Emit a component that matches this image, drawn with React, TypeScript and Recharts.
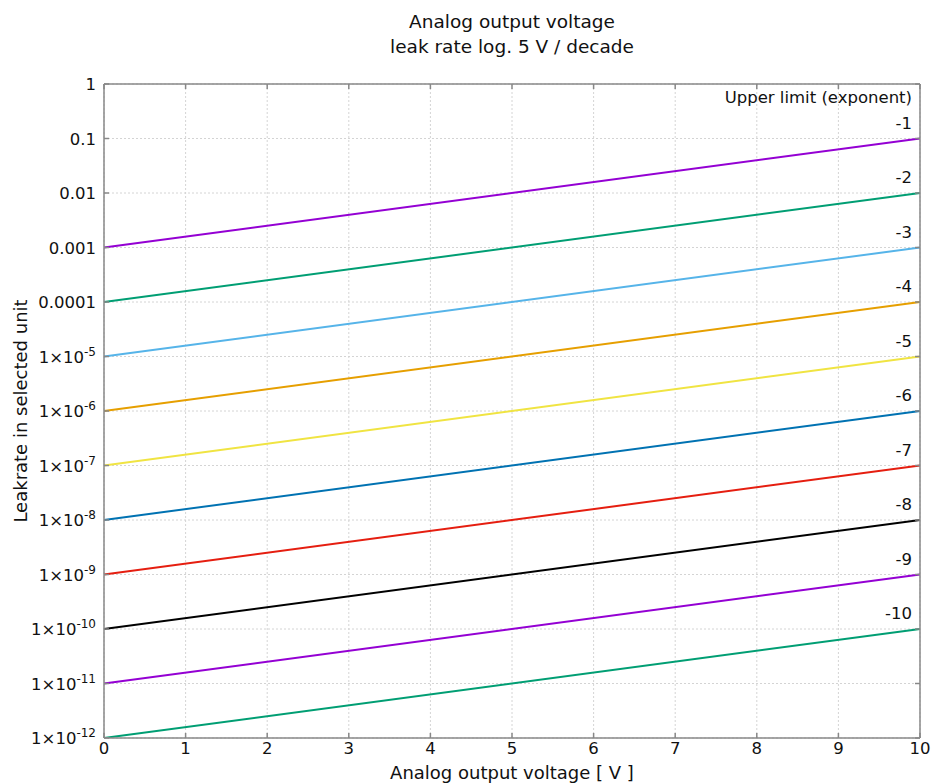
import React from "react";
import { LineChart, Line, XAxis, YAxis, CartesianGrid } from "recharts";

const xValues = [0, 10];
const exponents = [-1, -2, -3, -4, -5, -6, -7, -8, -9, -10];
const startValues = [1e-3, 1e-4, 1e-5, 1e-6, 1e-7, 1e-8, 1e-9, 1e-10, 1e-11, 1e-12];
const endValues = [1e-1, 1e-2, 1e-3, 1e-4, 1e-5, 1e-6, 1e-7, 1e-8, 1e-9, 1e-10];
const seriesLabels = ["-1", "-2", "-3", "-4", "-5", "-6", "-7", "-8", "-9", "-10"];
const colors = ["#9400d3", "#009e73", "#56b4e9", "#e69f00", "#f0e442", "#0072b2", "#e51e10", "#000000", "#9400d3", "#009e73"];
const xTicks = [0, 1, 2, 3, 4, 5, 6, 7, 8, 9, 10];
const yTicks = [1, 1e-1, 1e-2, 1e-3, 1e-4, 1e-5, 1e-6, 1e-7, 1e-8, 1e-9, 1e-10, 1e-11, 1e-12];
const yTickLabels = ["1", "0.1", "0.01", "0.001", "0.0001", "1×10^-5", "1×10^-6", "1×10^-7", "1×10^-8", "1×10^-9", "1×10^-10", "1×10^-11", "1×10^-12"];

const data = xValues.map((x, i) => {
  const row: any = { x };
  exponents.forEach((_, k) => {
    row["s" + k] = i === 0 ? startValues[k] : endValues[k];
  });
  return row;
});

const FONT = "'DejaVu Sans', Verdana, sans-serif";
const TXT = "#111";
const TICK_FS = 16.5;

const YTick = (props: any) => {
  const { x, y, payload } = props;
  const idx = yTicks.findIndex((t) => Math.abs(Math.log10(t) - Math.log10(payload.value)) < 1e-6);
  const label = idx >= 0 ? yTickLabels[idx] : String(payload.value);
  const parts = label.split("^");
  return (
    <text x={x} y={y + 6} textAnchor="end" fontSize={TICK_FS} fill={TXT} fontFamily={FONT}>
      {parts.length === 1 ? (
        parts[0]
      ) : (
        <>
          <tspan>{parts[0]}</tspan>
          <tspan dy={-7} fontSize={12}>{parts[1]}</tspan>
        </>
      )}
    </text>
  );
};

const XTick = (props: any) => {
  const { x, y, payload } = props;
  return (
    <text x={x} y={y + 13} textAnchor="middle" fontSize={TICK_FS} fill={TXT} fontFamily={FONT}>
      {payload.value}
    </text>
  );
};

const Empty = () => <g />;

const makeLabel = (k: number) => (props: any) => {
  const { x, y, index } = props;
  if (index !== 1) return <g key={"l" + k + "-" + index} />;
  return (
    <text key={"l" + k} x={x - 8} y={y - 10} textAnchor="end" fontSize={TICK_FS} fill={TXT} fontFamily={FONT}>
      {seriesLabels[k]}
    </text>
  );
};

export default function App() {
  const W = 944;
  const H = 783;
  return (
    <div style={{ position: "absolute", left: 0, top: 0, width: W, height: H, background: "#fff" }}>
      <LineChart width={W} height={H} data={data} margin={{ top: 83, right: 0, bottom: 0, left: 0 }}>
        <CartesianGrid stroke="#d4d4d4" strokeDasharray="2 2" />
        <XAxis
          dataKey="x"
          type="number"
          domain={[0, 10]}
          ticks={xTicks}
          height={45}
          stroke="#888"
          strokeWidth={1.5}
          tickSize={-5}
          tickMargin={8}
          tick={<XTick />}
          interval={0}
        />
        <XAxis
          xAxisId="top"
          dataKey="x"
          type="number"
          orientation="top"
          domain={[0, 10]}
          ticks={xTicks}
          height={1}
          stroke="#888"
          strokeWidth={1.5}
          tickSize={-5}
          tick={<Empty />}
          interval={0}
        />
        <YAxis
          type="number"
          scale="log"
          domain={[1e-12, 1]}
          allowDataOverflow
          ticks={yTicks}
          width={104}
          stroke="#888"
          strokeWidth={1.5}
          tickSize={-5}
          tickMargin={13}
          tick={<YTick />}
          interval={0}
        />
        <YAxis
          yAxisId="right"
          orientation="right"
          type="number"
          scale="log"
          domain={[1e-12, 1]}
          allowDataOverflow
          ticks={yTicks}
          width={24}
          stroke="#888"
          strokeWidth={1.5}
          tickSize={-5}
          tick={<Empty />}
          interval={0}
        />
        {exponents.map((e, k) => (
          <Line
            key={e}
            dataKey={"s" + k}
            type="linear"
            stroke={colors[k]}
            strokeWidth={2}
            dot={false}
            isAnimationActive={false}
            label={makeLabel(k)}
          />
        ))}
      </LineChart>
      <svg width={W} height={H} style={{ position: "absolute", left: 0, top: 0, pointerEvents: "none" }}>
        <text x={512} y={28} textAnchor="middle" fontSize={18.5} fill={TXT} fontFamily={FONT}>
          Analog output voltage
        </text>
        <text x={512} y={53} textAnchor="middle" fontSize={18.5} fill={TXT} fontFamily={FONT}>
          leak rate log. 5 V / decade
        </text>
        <text x={912} y={103} textAnchor="end" fontSize={TICK_FS} fill={TXT} fontFamily={FONT}>
          Upper limit (exponent)
        </text>
        <text x={512} y={779} textAnchor="middle" fontSize={18} fill={TXT} fontFamily={FONT}>
          Analog output voltage [ V ]
        </text>
        <text
          x={0}
          y={0}
          transform="translate(27,411) rotate(-90)"
          textAnchor="middle"
          fontSize={18}
          fill={TXT}
          fontFamily={FONT}
        >
          Leakrate in selected unit
        </text>
      </svg>
    </div>
  );
}
